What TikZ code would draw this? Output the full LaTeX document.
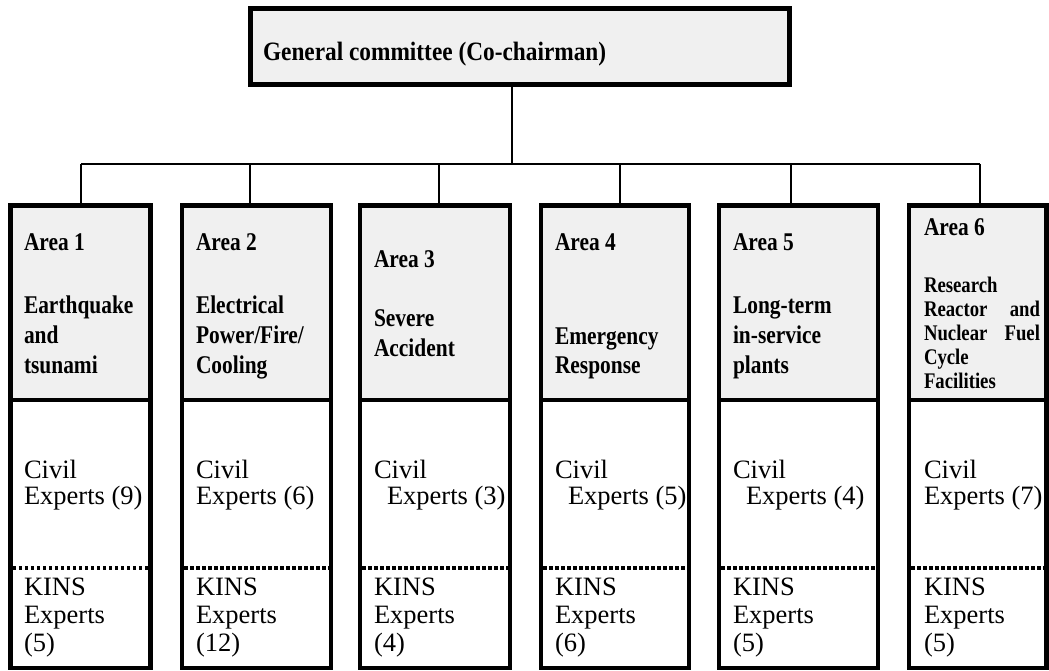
\documentclass[tikz,border=0pt]{standalone}
\usepackage{fontspec}
\setmainfont{Liberation Serif}
\newfontfamily\condfont{Liberation Serif}[FakeStretch=0.84]
\newfontfamily\topfont{Liberation Serif}[FakeStretch=0.88]
\usetikzlibrary{fit}
\definecolor{hdrgray}{HTML}{F0F0F0}
\tikzset{
  box/.style={draw=black, line width=4.5pt, inner sep=0pt},
  hdrbox/.style={box, fill=hdrgray},
  bodybox/.style={box, fill=white},
  topbox/.style={draw=black, line width=4.7pt, inner sep=0pt, fill=hdrgray},
  conn/.style={draw=black, line width=1.3pt},
  sepline/.style={draw=black, line width=3.5pt, dash pattern=on 3.5pt off 2.5pt},
  txt/.style={anchor=base west, inner sep=0pt, outer sep=0pt, align=left},
  toptext/.style={txt, font=\topfont\bfseries\fontsize{26.5}{30}\selectfont},
  areatitle/.style={txt, font=\condfont\bfseries\fontsize{25.5}{30}\selectfont},
  areabody/.style={txt, font=\condfont\bfseries\fontsize{25.5}{30}\selectfont},
  areabodyb/.style={txt, font=\condfont\bfseries\fontsize{25.5}{29}\selectfont},
  smallbody/.style={txt, font=\condfont\bfseries\fontsize{22.3}{24}\selectfont},
  civiltext/.style={txt, font=\fontsize{26.5}{26}\selectfont},
  kinstext/.style={txt, font=\fontsize{26.5}{28}\selectfont},
}
\begin{document}
\begin{tikzpicture}[x=1pt, y=-1pt]
\useasboundingbox (0,0) rectangle (1049,671);

% general committee
\node[topbox, fit={(250.5,8.5) (789.5,84.5)}] (gc) {};
\node[toptext] (gct) at (263,61) {General committee (Co-chairman)};

% columns: index / left / right
\foreach \i/\l/\r in {1/10.5/150.5, 2/182/331, 3/360/510, 4/541/689, 5/719/878, 6/909/1046.5}{
  \node[hdrbox, fit={(\l,205.5) (\r,400)}] (h\i) {};
  \node[bodybox, fit={(\l,400) (\r,668)}] (b\i) {};
  \coordinate (dl\i) at (\l,568);
  \coordinate (dr\i) at (\r,568);
  \draw[sepline] ([xshift=2.25pt]dl\i) -- ([xshift=-2.25pt]dr\i);
}

% connectors
\coordinate (j0) at (512,164);
\foreach \i/\x in {1/81, 2/250, 3/439, 4/620, 5/791, 6/980}{
  \coordinate (j\i) at (\x,164);
}
\draw[conn] (gc.south -| j0) -- (j0);
\draw[conn] (j1) -- (j6);
\foreach \i in {1,...,6}{
  \draw[conn] (j\i) -- (h\i.north -| j\i);
}

% header texts (multi-line nodes are anchored at their last baseline)
\node[areatitle] (t1) at (24,251) {Area 1};
\node[areabody] (d1) at (24,373) {Earthquake\\and\\tsunami};
\node[areatitle] (t2) at (196,251) {Area 2};
\node[areabody] (d2) at (196,373) {Electrical\\Power/Fire/\\Cooling};
\node[areatitle] (t3) at (374,267) {Area 3};
\node[areabody] (d3) at (374,356) {Severe\\Accident};
\node[areatitle] (t4) at (555,251) {Area 4};
\node[areabodyb] (d4) at (555,373) {Emergency\\Response};
\node[areatitle] (t5) at (733,251) {Area 5};
\node[areabody] (d5) at (733,373) {Long-term\\in-service\\plants};
\node[areatitle] (t6) at (924,235) {Area 6};
\node[smallbody] (d6) at (924,388) {Research\\\hbox to 116pt{Reactor\hfill and}\\\hbox to 116pt{Nuclear\hfill Fuel}\\Cycle\\Facilities};

% civil experts
\node[civiltext] (c1) at (24,504) {Civil\\Experts (9)};
\node[civiltext] (c2) at (196,504) {Civil\\Experts (6)};
\node[civiltext] (c3) at (374,504) {Civil\\\hspace*{13pt}Experts (3)};
\node[civiltext] (c4) at (555,504) {Civil\\\hspace*{13pt}Experts (5)};
\node[civiltext] (c5) at (733,504) {Civil\\\hspace*{13pt}Experts (4)};
\node[civiltext] (c6) at (924,504) {Civil\\Experts (7)};

% KINS experts
\node[kinstext] (k1) at (24,651) {KINS\\Experts\\(5)};
\node[kinstext] (k2) at (196,651) {KINS\\Experts\\(12)};
\node[kinstext] (k3) at (374,651) {KINS\\Experts\\(4)};
\node[kinstext] (k4) at (555,651) {KINS\\Experts\\(6)};
\node[kinstext] (k5) at (733,651) {KINS\\Experts\\(5)};
\node[kinstext] (k6) at (924,651) {KINS\\Experts\\(5)};
\end{tikzpicture}
\end{document}
